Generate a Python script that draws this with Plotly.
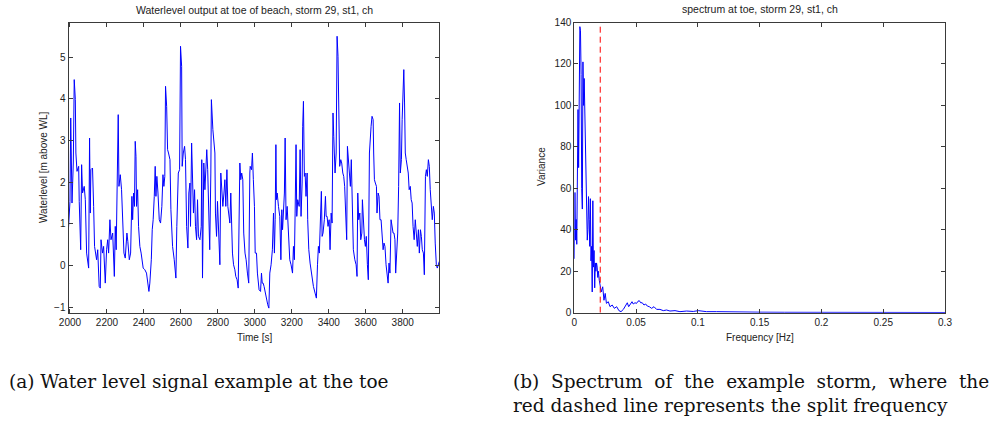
import plotly.graph_objects as go

# ---------------- data: water level at toe ----------------
time_s = [1992, 2000, 2004, 2011, 2018, 2023, 2029, 2032, 2038, 2047, 2050, 2058, 2063, 2068, 2077, 2083,
          2090, 2101, 2106, 2110, 2113, 2122, 2128, 2133, 2144, 2150, 2158, 2164, 2168, 2176, 2182, 2191,
          2198, 2204, 2209, 2216, 2222, 2231, 2240, 2245, 2250, 2258, 2261, 2265, 2272, 2279, 2285, 2292,
          2299, 2308, 2313, 2321, 2328, 2335, 2339, 2344, 2349, 2353, 2357, 2360, 2366, 2371, 2378, 2385,
          2396, 2405, 2414, 2422, 2427, 2432, 2440, 2445, 2450, 2456, 2461, 2465, 2470, 2476, 2483, 2490,
          2497, 2503, 2508, 2513, 2517, 2523, 2528, 2533, 2541, 2546, 2555, 2564, 2573, 2578, 2586, 2593,
          2598, 2604, 2607, 2613, 2620, 2625, 2631, 2638, 2643, 2649, 2652, 2658, 2663, 2668, 2674, 2679,
          2685, 2690, 2695, 2703, 2710, 2713, 2717, 2724, 2730, 2735, 2740, 2745, 2751, 2756, 2762, 2765,
          2773, 2778, 2784, 2787, 2793, 2798, 2804, 2811, 2816, 2822, 2827, 2833, 2838, 2843, 2849, 2854,
          2859, 2865, 2870, 2876, 2879, 2885, 2892, 2897, 2904, 2910, 2915, 2919, 2924, 2929, 2935, 2940,
          2947, 2953, 2960, 2967, 2973, 2975, 2982, 2987, 2992, 2998,
          3002, 3009, 3014, 3023, 3031, 3036, 3040, 3045, 3050, 3056, 3063, 3070, 3076, 3081, 3088, 3095,
          3101, 3106, 3110, 3114, 3117, 3121, 3128, 3135, 3141, 3146, 3150, 3155, 3160, 3164, 3169, 3175,
          3182, 3189, 3196, 3204, 3209, 3214, 3218, 3223, 3227, 3232, 3240, 3245, 3250, 3256, 3259, 3263,
          3268, 3272, 3277, 3283, 3286, 3292, 3299, 3308, 3317, 3326, 3333, 3339, 3344, 3349, 3355, 3360,
          3364, 3369, 3376, 3382, 3386, 3391, 3396, 3402, 3407, 3413, 3418, 3423, 3427, 3434, 3440, 3445,
          3450, 3456, 3459, 3465, 3470, 3476, 3481, 3486, 3492, 3497, 3501, 3506, 3512, 3517, 3522, 3528,
          3533, 3541, 3548, 3553, 3557, 3562, 3568, 3573, 3579, 3582, 3588, 3593, 3598, 3603, 3609, 3614,
          3620, 3623, 3629, 3634, 3640, 3643, 3647, 3652, 3658, 3661, 3667, 3672, 3677, 3683, 3688, 3694,
          3699, 3704, 3710, 3715, 3721, 3726, 3731, 3737, 3742, 3748, 3753, 3758, 3762, 3767, 3773, 3778,
          3783, 3787, 3793, 3797, 3803, 3806, 3810, 3814, 3819, 3824, 3830, 3835, 3841, 3846, 3851, 3856,
          3862, 3868, 3874, 3879, 3885, 3890, 3896, 3901, 3906, 3912, 3917, 3923, 3928, 3933, 3939, 3944,
          3949, 3955, 3960, 3966, 3971, 3976, 3982, 3987, 3993, 3998]
water_level = [0.9, 1.54, 3.54, 1.5, 2.46, 4.46, 3.98, 2.7, 2.26, 2.38, 1.54, 0.38, 2.42, 1.74, 1.9, 1.58,
               0.3, -0.06, 3.06, 1.26, 2.3, 2.34, 1.42, 0.46, 0.14, 0.38, -0.5, -0.54, 0.62, 0.3, 0.46, -0.42,
               0.38, 0.62, 0.3, 1.1, 0.62, 0.78, -0.26, 0.94, 0.38, 2.22, 3.62, 1.9, 2.18, 1.82, 1.1, 0.3,
               0.18, 0.78, 0.58, 0.14, 0.3, 1.66, 1.1, 1.74, 1.42, 2.98, 2.62, 1.42, 1.82, 0.94, 0.46, 0.3,
               -0.06, -0.1, -0.18, -0.5, -0.62, -0.42, 0.14, 0.86, 1.1, 1.66, 2.38, 1.66, 2.14, 1.74, 1.1, 1.02,
               1.42, 2.18, 1.9, 2.14, 4.3, 3.82, 2.78, 2.7, 2.54, 1.34, 0.46, 0.14, -0.3, 0.94, 2.22, 2.3,
               5.26, 4.78, 2.38, 2.7, 2.86, 2.54, 0.94, 0.42, 1.74, 1.98, 0.94, 2.94, 1.74, 1.26, 1.82, 0.94,
               0.62, 1.58, 0.7, 0.62, 0.94, 2.54, -0.3, 2.46, 1.82, 2.46, 2.78, 2.3, 0.78, 0.38, 2.22, 3.98,
               3.26, 3.0, 2.7, 1.26, 0.7, 1.54, 0.54, 0.02, 2.22, 1.9, 1.42, 1.74, 2.06, 1.42, 2.3, 1.42,
               1.26, 1.02, 1.74, 0.78, 0.3, 0.02, -0.1, -0.26, -0.34, -0.54, 0.7, 2.46, 2.06, 2.22, 2.06, 0.78,
               0.3, 0.14, -0.18, -0.42, 2.22, 2.38, 2.3, 2.7, 2.06, 1.42,
               0.3, 0.3, -0.18, -0.58, -0.62, -0.18, -0.42, -0.42, -0.5, -0.66, -0.82, -0.94, -1.02, -0.18, 0.02, 0.38,
               1.26, 0.3, 1.1, 2.9, 1.58, 1.74, 1.42, 1.18, 0.14, 1.34, 0.86, 1.26, 1.74, 3.06, 1.1, 1.42,
               0.7, 0.14, 0.02, -0.18, 0.46, 0.14, 1.26, 2.9, 1.18, 1.58, 1.42, 2.78, 1.18, 1.98, 3.34, 3.94,
               2.14, 2.22, 1.66, 2.22, 1.1, 0.38, 0.06, -0.26, -0.5, -0.66, -0.78, 0.02, 0.46, 0.3, 1.1, 1.78,
               0.7, 0.78, 1.1, 1.66, 1.18, 1.18, 0.94, 1.1, 0.38, 1.26, 1.02, 3.66, 3.1, 2.22, 2.7, 5.5,
               5.02, 3.42, 2.38, 2.54, 2.46, 2.22, 2.14, 1.9, 1.02, 0.62, 2.86, 2.54, 2.06, 1.9, 2.54, 1.34,
               0.38, 0.14, 0.02, -0.26, 1.74, 1.1, 1.26, 0.62, 0.78, 1.58, 0.78, 0.62, 0.46, 0.7, 0.02, -0.34,
               2.7, 3.02, 3.34, 3.58, 3.5, 2.7, 2.06, 1.98, 1.9, 1.26, 1.74, 1.66, 1.1, 1.1, 0.7, 0.38,
               0.54, 0.46, 0.02, -0.26, -0.42, 0.06, -0.18, 1.1, 0.94, 0.78, 0.78, 0.62, -0.18, 0.3, 0.78, 1.9,
               3.9, 2.22, 2.54, 3.5, 4.66, 4.7, 3.9, 2.7, 2.54, 2.38, 2.22, 1.82, 1.9, 1.58, 1.5, 0.94,
               0.62, 1.1, 0.78, 0.46, 0.86, 0.3, 0.86, 0.7, 0.38, 0.3, -0.22, 2.14, 2.3, 2.14, 2.54, 2.38,
               1.82, 1.42, 1.1, 1.42, 1.26, 0.54, 0.02, -0.06, 0.02, 0.1]

# ---------------- data: spectrum ----------------
frequency_hz = [0.0, 0.0005, 0.001, 0.0015, 0.002, 0.0025, 0.003, 0.0035, 0.004, 0.0045, 0.005, 0.0055,
                0.006, 0.0065, 0.007, 0.0075, 0.008, 0.0085, 0.009, 0.0095, 0.010, 0.0105, 0.011, 0.0115,
                0.012, 0.0125, 0.013, 0.0135, 0.014, 0.0145, 0.015, 0.0155, 0.016, 0.0165, 0.017, 0.0175,
                0.018, 0.0185, 0.019, 0.0195, 0.0202, 0.0210, 0.0218, 0.023, 0.024, 0.025, 0.026, 0.0275,
                0.0289, 0.0307, 0.0324, 0.0343, 0.0361, 0.0378, 0.0397, 0.0418, 0.0429, 0.044, 0.0453,
                0.0467, 0.0477, 0.0491, 0.0504, 0.0515, 0.0526, 0.0537, 0.055, 0.0564, 0.0577, 0.0591,
                0.0607, 0.0626, 0.0645, 0.0666, 0.0693, 0.072, 0.0747, 0.0774, 0.0815, 0.0855, 0.0909,
                0.0963, 0.1003, 0.107, 0.115, 0.13, 0.15, 0.17, 0.2, 0.23, 0.26, 0.3]
variance = [26, 58, 35, 45, 33, 75, 98, 70, 115, 138, 136, 115,
            60, 50, 121, 100, 113, 99, 88, 60, 45, 35, 40, 56,
            45, 32, 55, 25, 32, 10, 54, 22, 30, 12, 24, 20,
            24, 22, 17, 20, 15.7, 12, 10, 12.5, 6, 9.3, 4.5, 5.3,
            2.9, 3.7, 2.1, 2.9, 1.0, 0.5, 1.6, 3.7, 4.8, 2.9, 4.0,
            5.3, 4.2, 4.8, 4.5, 5.5, 5.8, 4.8, 4.8, 3.7, 4.2, 3.2,
            2.9, 2.1, 2.9, 1.6, 1.6, 1.0, 1.3, 0.8, 1.0, 0.5, 0.8,
            0.6, 1.0, 0.5, 0.5, 0.3, 0.25, 0.2, 0.15, 0.1, 0.1, 0.1]
split_frequency = 0.021

time_ticks = [2000, 2200, 2400, 2600, 2800, 3000, 3200, 3400, 3600, 3800]
level_ticks = [-1, 0, 1, 2, 3, 4, 5]
freq_ticks = [0, 0.05, 0.1, 0.15, 0.2, 0.25, 0.3]
freq_tick_labels = ["0", "0.05", "0.1", "0.15", "0.2", "0.25", "0.3"]
var_ticks = [0, 20, 40, 60, 80, 100, 120, 140]

W, H = 992, 428
BLUE = "#0000ff"
AX = "#3a3a3a"
TXT = "#222222"
SANS = "Liberation Sans, Arial, sans-serif"
SERIF = "DejaVu Serif, serif"
CAP = 18.5

fig = go.Figure()
fig.add_trace(go.Scatter(x=time_s, y=water_level, mode="lines",
                         line=dict(color=BLUE, width=1), xaxis="x", yaxis="y", showlegend=False))
fig.add_trace(go.Scatter(x=frequency_hz, y=variance, mode="lines",
                         line=dict(color=BLUE, width=1), xaxis="x2", yaxis="y2", showlegend=False))
fig.add_trace(go.Scatter(x=[split_frequency, split_frequency], y=[var_ticks[0], var_ticks[-1]], mode="lines",
                         line=dict(color="#ff0000", width=1, dash="6px,4px"), xaxis="x2", yaxis="y2",
                         showlegend=False))

ydom = [1 - 312.7 / H, 1 - 22.5 / H]
common = dict(showline=True, linecolor=AX, linewidth=1, mirror="ticks", ticks="inside", ticklen=4,
              tickcolor=AX, showgrid=False, zeroline=False, automargin=False,
              tickfont=dict(family=SANS, size=10, color=TXT))


def ann(text, x, y, size, family, angle=0, anchor="center", color=TXT):
    return dict(text=text, x=x / W, y=1 - y / H, xref="paper", yref="paper", showarrow=False,
                xanchor=anchor, yanchor="middle", textangle=angle,
                font=dict(family=family, size=size, color=color))


line1 = "(b)&nbsp; Spectrum&nbsp; of&nbsp; the&nbsp; example&nbsp; storm,&nbsp; where&nbsp; the"

fig.update_layout(
    width=W, height=H, margin=dict(l=0, r=0, t=0, b=0, autoexpand=False),
    paper_bgcolor="white", plot_bgcolor="white",
    xaxis=dict(domain=[68.5 / W, 439.3 / W], range=[1992, 3998], tickvals=time_ticks, anchor="y", **common),
    yaxis=dict(domain=ydom, range=[-1.13, 5.83], tickvals=level_ticks, anchor="x", **common),
    xaxis2=dict(domain=[574.3 / W, 945 / W], range=[0, 0.3], tickvals=freq_ticks, ticktext=freq_tick_labels,
                anchor="y2", **common),
    yaxis2=dict(domain=ydom, range=[0, 140], tickvals=var_ticks, anchor="x2", **common),
    annotations=[
        ann("Waterlevel output at toe of beach, storm 29, st1, ch", 254, 10, 10.5, SANS),
        ann("spectrum at toe, storm 29, st1, ch", 760, 9, 10.5, SANS),
        ann("Time [s]", 254, 337, 10, SANS),
        ann("Frequency [Hz]", 760, 337, 10, SANS),
        ann("Waterlevel [m above WL]", 43, 167, 10, SANS, angle=-90),
        ann("Variance", 541, 167, 10, SANS, angle=-90),
        ann("(a) Water level signal example at the toe", 7, 381, CAP, SERIF, anchor="left", color="#111111"),
        ann(line1, 511, 381, CAP, SERIF, anchor="left", color="#111111"),
        ann("red dashed line represents the split frequency", 511, 405, CAP, SERIF, anchor="left",
            color="#111111"),
    ],
)

fig.write_html("out.html")
